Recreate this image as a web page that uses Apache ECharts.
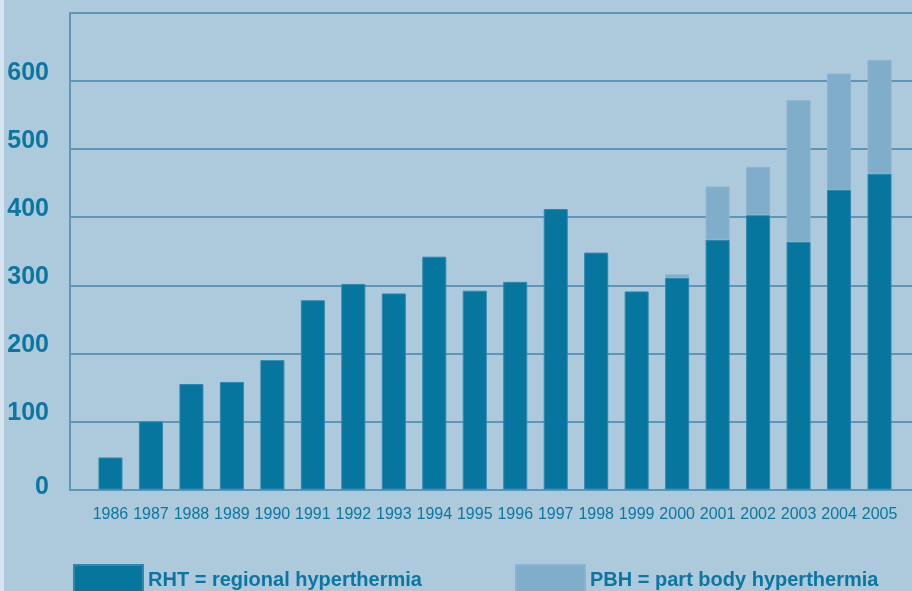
<!DOCTYPE html>
<html>
<head>
    <meta charset="UTF-8">
    <title>Hyperthermia treatments</title>
    <style>
        html, body { margin: 0; padding: 0; background: #adc9dc; }
    </style>
</head>
<body>
<div id="main" style="width:912px; height:591px;"></div>

<script type="text/javascript" src="https://cdn.jsdelivr.net/npm/echarts@6/dist/echarts.min.js"></script>
<script type="text/javascript">

    // data
    var years = ['1986','1987','1988','1989','1990','1991','1992','1993','1994','1995',
                 '1996','1997','1998','1999','2000','2001','2002','2003','2004','2005'];
    var rht = [47, 100, 155, 158, 190, 278, 302, 288, 342, 292,
               305, 412, 348, 291, 311, 367, 403, 364, 440, 464];
    var pbh = [null, null, null, null, null, null, null, null, null, null,
               null, null, null, null, 5, 78, 71, 208, 171, 167];
    var yTicks = [0, 100, 200, 300, 400, 500, 600, 700];

    var dark = '#06769f';
    var light = '#80adca';
    var lineCol = '#5e96b9';
    var txtCol = '#0b77a0';
    var font = '"Liberation Sans", Arial, sans-serif';

    // one empty slot on each side so the first bar sits a full step from the y axis
    var cats = [''].concat(years, ['']);
    function pad(arr) { return [null].concat(arr, [null]); }

    var myChart = echarts.init(document.getElementById('main'));

    var legendText = { fontFamily: font, fontWeight: 'bold', fontSize: 20, color: txtCol };

    var option = {
        backgroundColor: '#adc9dc',
        animation: false,
        graphic: [
            { type: 'rect', shape: { x: 0, y: 0, width: 4, height: 591 }, style: { fill: '#d6e5ef' }, silent: true }
        ],
        grid: { left: 70, right: -8, top: 13, bottom: 101.5, containLabel: false, outerBoundsMode: 'none' },
        legend: [
            {
                left: 73, top: 564, padding: 0,
                itemWidth: 69, itemHeight: 30, itemGap: 0,
                icon: 'rect',
                data: ['RHT = regional hyperthermia'],
                textStyle: legendText
            },
            {
                left: 515, top: 564, padding: 0,
                itemWidth: 69, itemHeight: 30, itemGap: 0,
                icon: 'rect',
                data: ['PBH = part body hyperthermia'],
                textStyle: legendText
            }
        ],
        xAxis: {
            type: 'category',
            data: cats,
            boundaryGap: false,
            axisLine: { lineStyle: { color: lineCol, width: 2 } },
            axisTick: { show: false },
            axisLabel: { interval: 0, margin: 17, fontFamily: font, fontSize: 16, color: txtCol },
            splitLine: { show: false }
        },
        yAxis: {
            type: 'value',
            min: yTicks[0],
            max: yTicks[yTicks.length - 1],
            interval: 100,
            axisLine: { show: true, lineStyle: { color: lineCol, width: 2 } },
            axisTick: { show: false },
            splitLine: { lineStyle: { color: lineCol, width: 2 } },
            axisLabel: {
                margin: 21,
                formatter: function (v) {
                    if (v === yTicks[yTicks.length - 1]) return '';
                    return v === 0 ? '{z|0}' : '{a|' + v + '}';
                },
                rich: {
                    a: { fontFamily: font, fontWeight: 'bold', fontSize: 25, color: txtCol, padding: [0, 0, 16, 0] },
                    z: { fontFamily: font, fontWeight: 'bold', fontSize: 25, color: txtCol, padding: [0, 0, 5, 0] }
                }
            }
        },
        series: [
            {
                name: 'RHT = regional hyperthermia',
                type: 'bar',
                stack: 'total',
                barWidth: 24,
                data: pad(rht),
                itemStyle: { color: dark, borderColor: '#2f86ae', borderWidth: 1 }
            },
            {
                name: 'PBH = part body hyperthermia',
                type: 'bar',
                stack: 'total',
                barWidth: 24,
                data: pad(pbh),
                itemStyle: { color: light, borderColor: '#8bb5cf', borderWidth: 1 }
            }
        ]
    };

    myChart.setOption(option);

</script>
</body>
</html>
